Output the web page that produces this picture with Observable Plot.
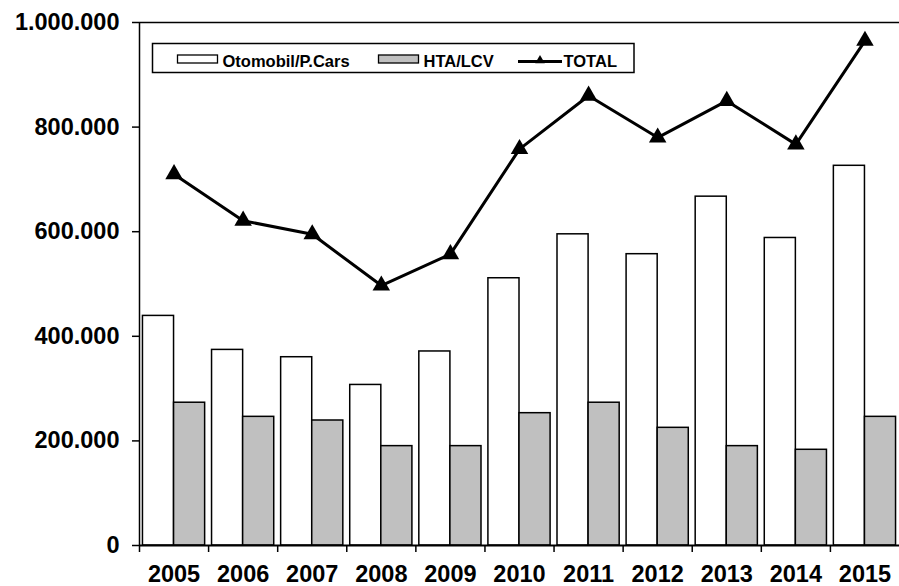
<!DOCTYPE html>
<html>
<head>
<meta charset="utf-8">
<script src="https://cdn.jsdelivr.net/npm/d3@7"></script>
<script src="https://cdn.jsdelivr.net/npm/@observablehq/plot@0.6"></script>
<style>
  body { margin: 0; background: #fff; }
  #chart { width: 899px; height: 586px; }
</style>
</head>
<body>
<div id="chart"></div>
<script>
// ---- data ----
const years = [2005, 2006, 2007, 2008, 2009, 2010, 2011, 2012, 2013, 2014, 2015];
const cars  = [439000, 374000, 360000, 307000, 371000, 511000, 595000, 557000, 667000, 588000, 726000];
const lcv   = [273000, 246000, 239000, 190000, 190000, 253000, 273000, 225000, 190000, 183000, 246000];
const total = [710000, 621000, 595000, 497000, 557000, 758000, 860000, 780000, 850000, 767000, 965000];
const seriesNames = ["Otomobil/P.Cars", "HTA/LCV", "TOTAL"];
const yTicks = [0, 200000, 400000, 600000, 800000, 1000000];

const rows = years.map((year, i) => ({ year, cars: cars[i], lcv: lcv[i], total: total[i] }));
const boundaries = years.map(y => y - 0.5);
const fmt = d3.formatLocale({ decimal: ",", thousands: ".", grouping: [3], currency: ["", ""] }).format(",");
const FONT = "'Liberation Sans', Arial, sans-serif";
const GREY = "#c0c0c0";

const plot = Plot.plot({
  width: 899,
  height: 586,
  marginLeft: 139,
  marginRight: 0,
  marginTop: 22,
  marginBottom: 41,
  style: { fontFamily: FONT, fontWeight: "bold", fontSize: "23.5px", color: "black", background: "white", overflow: "visible" },
  x: { type: "linear", domain: [2004.5, 2015.5], label: null },
  y: { domain: [0, 1000000], label: null },
  marks: [
    Plot.rect(rows, { x1: d => d.year - 0.45, x2: d => d.year, y1: 0, y2: "cars", fill: "white", stroke: "black", strokeWidth: 1.5 }),
    Plot.rect(rows, { x1: d => d.year, x2: d => d.year + 0.45, y1: 0, y2: "lcv", fill: GREY, stroke: "black", strokeWidth: 1.5 }),
    Plot.ruleY([0], { stroke: "black", strokeWidth: 2 }),
    Plot.ruleY([1000000], { stroke: "black", strokeWidth: 1.5 }),
    Plot.ruleX([2004.5], { stroke: "black", strokeWidth: 1.5 }),
    Plot.line(rows, { x: "year", y: "total", stroke: "black", strokeWidth: 3 }),
    Plot.dot(rows, { x: "year", y: "total", symbol: "triangle", r: 6.5, fill: "black", stroke: "none" }),
    Plot.axisY({ ticks: yTicks, tickFormat: fmt, tickSize: 7, tickPadding: 13, strokeWidth: 1.5, stroke: "black", fontSize: 23.5, fontWeight: "bold", label: null }),
    Plot.axisX({ ticks: boundaries, tickFormat: () => "", tickSize: 7, strokeWidth: 1.5, stroke: "black", label: null }),
    Plot.axisX({ ticks: years, tickFormat: d => String(d), tickSize: 0, tickPadding: 20, fontSize: 23.5, fontWeight: "bold", label: null })
  ]
});

// ---- legend (inside plot area, top-left) ----
const svg = d3.select(plot);
const g = svg.append("g").attr("font-family", FONT).attr("font-weight", "bold").attr("font-size", 16.5).attr("text-anchor", "start");
g.append("rect").attr("x", 152.5).attr("y", 43.5).attr("width", 481.5).attr("height", 29)
  .attr("fill", "white").attr("stroke", "black").attr("stroke-width", 1.5);
g.append("rect").attr("x", 177.5).attr("y", 55).attr("width", 40).attr("height", 8)
  .attr("fill", "white").attr("stroke", "black").attr("stroke-width", 1.3);
g.append("text").attr("x", 222.5).attr("y", 66.5).attr("text-anchor", "start").attr("fill", "black").text(seriesNames[0]);
g.append("rect").attr("x", 378.5).attr("y", 55).attr("width", 40).attr("height", 8)
  .attr("fill", GREY).attr("stroke", "black").attr("stroke-width", 1.3);
g.append("text").attr("x", 423.5).attr("y", 66.5).attr("text-anchor", "start").attr("fill", "black").text(seriesNames[1]);
g.append("line").attr("x1", 518).attr("x2", 562).attr("y1", 61.5).attr("y2", 61.5)
  .attr("stroke", "black").attr("stroke-width", 3);
g.append("path").attr("transform", "translate(540,60.5)")
  .attr("d", d3.symbol(d3.symbolTriangle, 40)()).attr("fill", "black");
g.append("text").attr("x", 563.5).attr("y", 66.5).attr("text-anchor", "start").attr("fill", "black").text(seriesNames[2]);

document.getElementById("chart").appendChild(plot);
</script>
</body>
</html>
